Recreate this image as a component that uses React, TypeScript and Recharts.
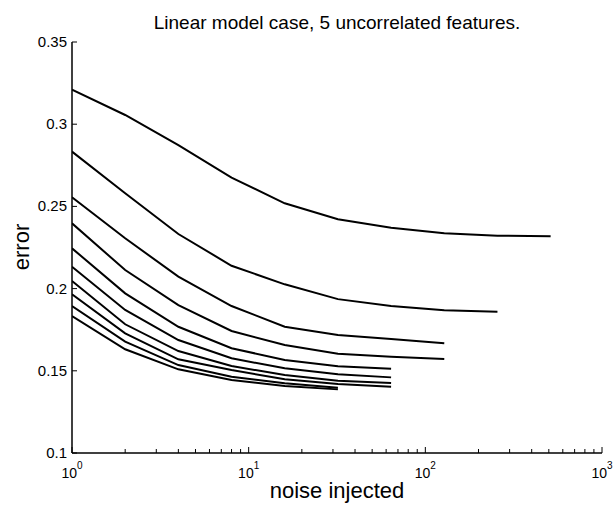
import { LineChart, Line, XAxis, YAxis } from "recharts";

const noise = [1, 2, 4, 8, 16, 32, 64, 128, 256, 512];

// one curve per setting, each stops where the run ended
const s1 = [0.321, 0.3056, 0.2873, 0.2675, 0.2519, 0.2422, 0.237, 0.2336, 0.2322, 0.2318];
const s2 = [0.2833, 0.258, 0.2332, 0.2139, 0.2026, 0.1936, 0.1894, 0.1868, 0.1859];
const s3 = [0.2555, 0.2306, 0.2073, 0.1894, 0.1768, 0.1718, 0.1693, 0.1667];
const s4 = [0.2397, 0.2113, 0.19, 0.1742, 0.1657, 0.1604, 0.1586, 0.1572];
const s5 = [0.2245, 0.1971, 0.1768, 0.1637, 0.1566, 0.1528, 0.1513];
const s6 = [0.2133, 0.187, 0.1687, 0.1576, 0.1515, 0.1479, 0.146];
const s7 = [0.2046, 0.1783, 0.162, 0.1529, 0.1474, 0.144, 0.1426];
const s8 = [0.1965, 0.1728, 0.157, 0.1505, 0.1448, 0.142, 0.1403];
const s9 = [0.1894, 0.1677, 0.1535, 0.1464, 0.1424, 0.1397];
const s10 = [0.1833, 0.1631, 0.1509, 0.1444, 0.1408, 0.1387];

const series = [s1, s2, s3, s4, s5, s6, s7, s8, s9, s10];

const xTicks = [
  1, 2, 3, 4, 5, 6, 7, 8, 9,
  10, 20, 30, 40, 50, 60, 70, 80, 90,
  100, 200, 300, 400, 500, 600, 700, 800, 900,
  1000,
];
const xMajor = [1, 10, 100, 1000];
const xExp: Record<number, string> = { 1: "0", 10: "1", 100: "2", 1000: "3" };
const yTicks = [0.1, 0.15, 0.2, 0.25, 0.3, 0.35];
const yLabels = ["0.1", "0.15", "0.2", "0.25", "0.3", "0.35"];

const data = noise.map((n, i) => {
  const row: Record<string, number | undefined> = { noise: n };
  series.forEach((s, k) => {
    row["s" + (k + 1)] = s[i];
  });
  return row;
});

const font = "'Liberation Sans', Arial, sans-serif";

const BottomTick = (props: any) => {
  const { x, y, payload } = props;
  const v = payload.value;
  const major = xMajor.includes(v);
  return (
    <g>
      <line x1={x} x2={x} y1={y} y2={y - (major ? 6 : 4)} stroke="#000" />
      {major && (
        <text x={x} y={y + 25} textAnchor="middle" fontSize={14} fontFamily={font} fill="#000">
          10
          <tspan dy={-9} fontSize={10}>
            {xExp[v]}
          </tspan>
        </text>
      )}
    </g>
  );
};

const TopTick = (props: any) => {
  const { x, y, payload } = props;
  const major = xMajor.includes(payload.value);
  return <line x1={x} x2={x} y1={y} y2={y + (major ? 6 : 4)} stroke="#000" />;
};

const LeftTick = (props: any) => {
  const { x, y, index } = props;
  return (
    <g>
      <line x1={x} x2={x + 5} y1={y} y2={y} stroke="#000" />
      <text x={x - 5} y={y + 5} textAnchor="end" fontSize={15} fontFamily={font} fill="#000">
        {yLabels[index]}
      </text>
    </g>
  );
};

const RightTick = (props: any) => {
  const { x, y } = props;
  return <line x1={x} x2={x - 5} y1={y} y2={y} stroke="#000" />;
};

export default function App() {
  return (
    <div style={{ position: "absolute", left: 0, top: 0, width: 614, height: 508, background: "#fff", fontFamily: font }}>
      <LineChart width={614} height={508} data={data} margin={{ top: 42, right: 12, bottom: 0, left: 0 }}>
        <XAxis
          xAxisId="b"
          dataKey="noise"
          type="number"
          scale="log"
          domain={[1, 1000]}
          allowDataOverflow
          ticks={xTicks}
          interval={0}
          tickSize={0}
          tickMargin={0}
          tick={<BottomTick />}
          tickLine={false}
          axisLine={{ stroke: "#000", strokeWidth: 1.5 }}
          height={55}
        />
        <XAxis
          xAxisId="t"
          orientation="top"
          dataKey="noise"
          type="number"
          scale="log"
          domain={[1, 1000]}
          allowDataOverflow
          ticks={xTicks}
          interval={0}
          tickSize={0}
          tickMargin={0}
          tick={<TopTick />}
          tickLine={false}
          axisLine={{ stroke: "#000", strokeWidth: 1.5 }}
          height={0}
        />
        <YAxis
          yAxisId="l"
          type="number"
          domain={[0.1, 0.35]}
          allowDataOverflow
          ticks={yTicks}
          interval={0}
          tickSize={0}
          tickMargin={0}
          tick={<LeftTick />}
          tickLine={false}
          axisLine={{ stroke: "#000", strokeWidth: 1.5 }}
          width={72}
        />
        <YAxis
          yAxisId="r"
          orientation="right"
          type="number"
          domain={[0.1, 0.35]}
          allowDataOverflow
          ticks={yTicks}
          interval={0}
          tickSize={0}
          tickMargin={0}
          tick={<RightTick />}
          tickLine={false}
          axisLine={{ stroke: "#000", strokeWidth: 1.5 }}
          width={0}
        />
        {series.map((_, k) => (
          <Line
            key={k}
            xAxisId="b"
            yAxisId="l"
            dataKey={"s" + (k + 1)}
            stroke="#000"
            strokeWidth={2}
            dot={false}
            type="linear"
            isAnimationActive={false}
          />
        ))}
      </LineChart>
      <div style={{ position: "absolute", left: 72, width: 530, top: 12, textAlign: "center", fontSize: 19, color: "#000" }}>
        Linear model case, 5 uncorrelated features.
      </div>
      <div style={{ position: "absolute", left: 72, width: 530, top: 478, textAlign: "center", fontSize: 22, color: "#000" }}>
        noise injected
      </div>
      <div
        style={{
          position: "absolute",
          left: 22,
          top: 247,
          transform: "translate(-50%, -50%) rotate(-90deg)",
          fontSize: 22,
          color: "#000",
        }}
      >
        error
      </div>
    </div>
  );
}
